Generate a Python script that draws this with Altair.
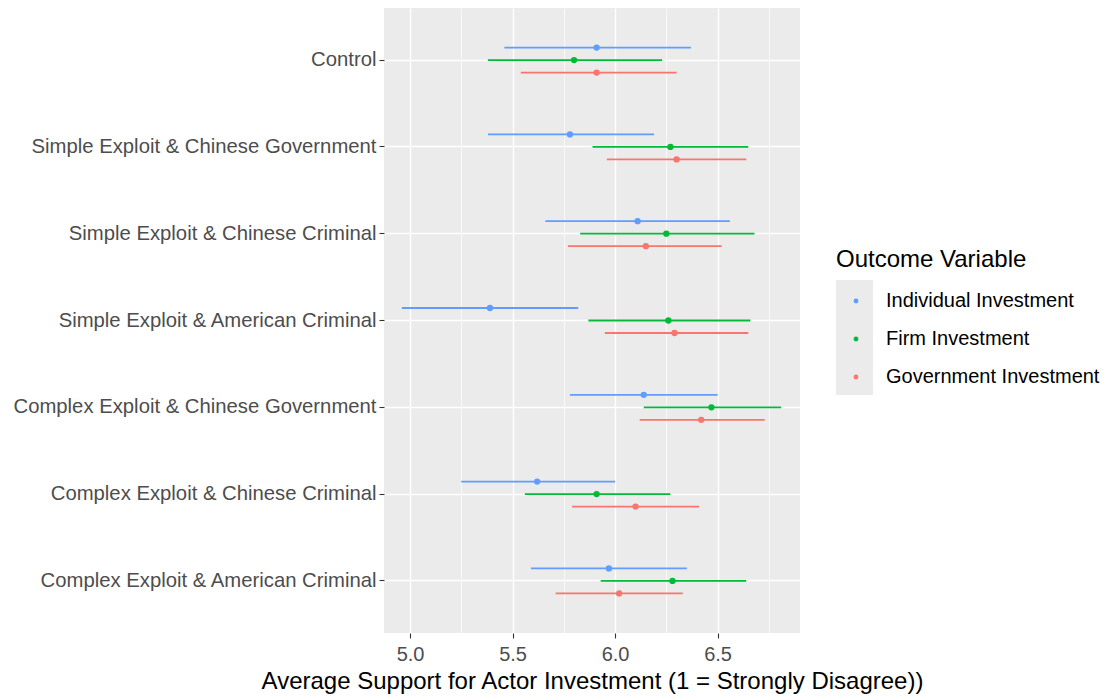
import altair as alt
import pandas as pd

categories = [
    "Control",
    "Simple Exploit & Chinese Government",
    "Simple Exploit & Chinese Criminal",
    "Simple Exploit & American Criminal",
    "Complex Exploit & Chinese Government",
    "Complex Exploit & Chinese Criminal",
    "Complex Exploit & American Criminal",
]
outcomes = ["Individual Investment", "Firm Investment", "Government Investment"]
colors = ["#619CFF", "#00BA38", "#F8766D"]

individual_mean = [5.91, 5.78, 6.11, 5.39, 6.14, 5.62, 5.97]
individual_lo = [5.46, 5.38, 5.66, 4.96, 5.78, 5.25, 5.59]
individual_hi = [6.37, 6.19, 6.56, 5.82, 6.50, 6.00, 6.35]

firm_mean = [5.80, 6.27, 6.25, 6.26, 6.47, 5.91, 6.28]
firm_lo = [5.38, 5.89, 5.83, 5.87, 6.14, 5.56, 5.93]
firm_hi = [6.23, 6.65, 6.68, 6.66, 6.81, 6.27, 6.64]

gov_mean = [5.91, 6.30, 6.15, 6.29, 6.42, 6.10, 6.02]
gov_lo = [5.54, 5.96, 5.77, 5.95, 6.12, 5.79, 5.71]
gov_hi = [6.30, 6.64, 6.52, 6.65, 6.73, 6.41, 6.33]

major_ticks = [5.0, 5.5, 6.0, 6.5]
minor_ticks = [5.25, 5.75, 6.25, 6.75]
x_domain = [4.873, 6.902]

rows = []
for name, m, lo, hi in [
    (outcomes[0], individual_mean, individual_lo, individual_hi),
    (outcomes[1], firm_mean, firm_lo, firm_hi),
    (outcomes[2], gov_mean, gov_lo, gov_hi),
]:
    for c, a, b, d in zip(categories, m, lo, hi):
        rows.append({"condition": c, "outcome": name, "mean": a, "lo": b, "hi": d})
df = pd.DataFrame(rows)

xscale = alt.Scale(domain=x_domain, nice=False, zero=False)
yenc = alt.Y(
    "condition:N",
    sort=categories,
    scale=alt.Scale(paddingInner=0, paddingOuter=0.1),
    axis=alt.Axis(
        title=None, grid=True, gridColor="white", gridWidth=1.4,
        bandPosition=0.5, domain=False, ticks=True, tickSize=5,
        tickColor="#333333", tickWidth=1.1, labelFontSize=20.3,
        labelColor="#4D4D4D", labelPadding=3, labelLimit=0,
    ),
)
yoff = alt.YOffset(
    "outcome:N", sort=outcomes,
    scale=alt.Scale(paddingInner=0, paddingOuter=0, range=[24.65, 62.15]),
)
color_scale = alt.Scale(domain=outcomes, range=colors)

legend = alt.Legend(
    title="Outcome Variable", orient="none", legendX=452, legendY=240,
    symbolType="circle", symbolSize=24, symbolOpacity=1,
    symbolStrokeWidth=0, labelLimit=0, titleLimit=0,
    titleFontSize=24, titleFontWeight="normal", titleColor="black",
    labelFontSize=20, labelColor="black", rowPadding=18,
    symbolOffset=10, labelOffset=20, titlePadding=19, padding=0,
)

key_bg = alt.Chart(pd.DataFrame({"k": [0]})).mark_rect(color="#EBEBEB").encode(
    x=alt.value(452), x2=alt.value(489), y=alt.value(272), y2=alt.value(387)
)

rules = alt.Chart(df).mark_rule(strokeWidth=1.8).encode(
    y=yenc,
    yOffset=yoff,
    x=alt.X("lo:Q", scale=xscale, axis=alt.Axis(
        orient="top", values=minor_ticks, grid=True, gridColor="white",
        gridWidth=0.7, labels=False, ticks=False, domain=False, title=None)),
    x2="hi:Q",
    color=alt.Color("outcome:N", scale=color_scale, sort=outcomes, legend=legend),
)

points = alt.Chart(df).mark_circle(size=40, opacity=1).encode(
    y=yenc,
    yOffset=yoff,
    x=alt.X("mean:Q", scale=xscale, axis=alt.Axis(
        orient="bottom", values=major_ticks, format=".1f", grid=True,
        gridColor="white", gridWidth=1.4, domain=False, ticks=True,
        tickSize=5, tickColor="#333333", tickWidth=1.1, labelFontSize=20,
        labelColor="#4D4D4D", labelPadding=6,
        title="Average Support for Actor Investment (1 = Strongly Disagree))",
        titleFontSize=24, titleFontWeight="normal", titleColor="black",
        titlePadding=5)),
    color=alt.Color("outcome:N", scale=color_scale, sort=outcomes, legend=legend),
)

chart = (
    alt.layer(key_bg, rules, points)
    .resolve_axis(x="independent")
    .properties(
        width=416, height=625,
        autosize=alt.AutoSizeParams(type="none"),
        padding={"left": 376, "top": 0, "right": 300, "bottom": 64},
    )
    .configure(font="Liberation Sans")
    .configure_view(fill="#EBEBEB", stroke=None)
)

chart.save("out.html", embed_options={"renderer": "svg", "actions": False})
